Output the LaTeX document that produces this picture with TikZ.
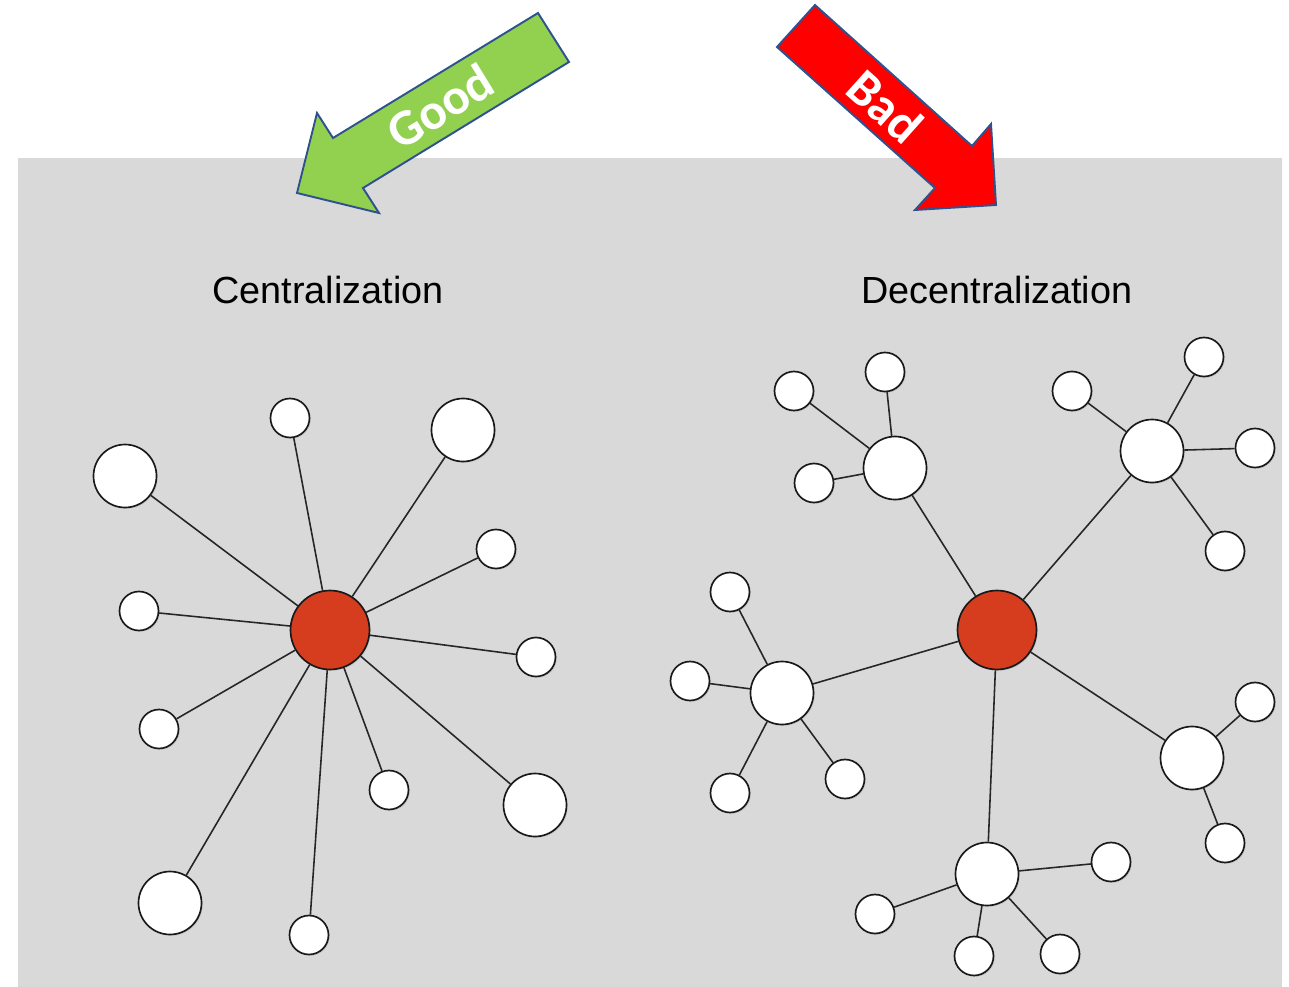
\documentclass[tikz,border=0pt]{standalone}
\usepackage{fontspec}
\setmainfont{Liberation Sans}
\newfontfamily\labelfont{Carlito}
\usetikzlibrary{shadows}
\definecolor{panelgray}{RGB}{217,217,217}
\definecolor{hubred}{RGB}{214,61,31}
\definecolor{goodgreen}{RGB}{146,208,80}
\definecolor{outlineblue}{RGB}{47,82,143}
\tikzset{
	dot/.style={circle, draw=black!90, line width=0.95pt, fill=white, inner sep=0pt,
		drop shadow={opacity=0.25, shadow xshift=0.7pt, shadow yshift=-0.7pt}},
	small/.style={dot, minimum size=0.78cm},
	big/.style={dot, minimum size=1.26cm},
	hub/.style={dot, fill=hubred, minimum size=1.58cm},
	link/.style={line width=0.9pt, black!85},
	bigarrow/.style={draw=outlineblue, line width=1.1pt, line join=miter}
}

\begin{document}
\begin{tikzpicture}[x=0.02cm, y=-0.02cm]
			%%%%% START %%%%%
			\useasboundingbox (0, 0) rectangle (1289, 987);
			\fill[panelgray] (18, 158) rectangle (1282, 987);
			
			% arrows
			\draw[bigarrow, fill=goodgreen] (538, 13) -- (569, 62) -- (363, 188) -- (379, 213) -- (297, 193) -- (317, 113) -- (333, 138) -- cycle;
			\node[rotate=31.5, text=white, font=\labelfont\bfseries\fontsize{29}{30}\selectfont] (good) at (440, 106) {Good};
			
			\draw[bigarrow, fill=red] (815, 5) -- (972, 146) -- (991, 124) -- (996, 205) -- (915, 210) -- (935, 188) -- (777, 47) -- cycle;
			\node[rotate=-41.8, text=white, font=\labelfont\bfseries\fontsize{29}{30}\selectfont] (bad) at (885, 106) {Bad};
			
			% titles
			\node[font=\fontsize{21.5}{24}\selectfont] (tcentral) at (328, 290) {Centralization};
			\node[font=\fontsize{21.5}{24}\selectfont] (tdecentral) at (997, 290) {Decentralization};
			
			% centralized network
			\node[hub] (hubL) at (330, 630) {};
			\node[small] (l1) at (290, 418) {};
			\node[big] (l2) at (125, 476) {};
			\node[big] (l3) at (463, 430) {};
			\node[small] (l4) at (496, 549) {};
			\node[small] (l5) at (139, 611) {};
			\node[small] (l6) at (536, 657) {};
			\node[small] (l7) at (159, 729) {};
			\node[big] (l8) at (170, 903) {};
			\node[small] (l9) at (309, 935) {};
			\node[small] (l10) at (389, 790) {};
			\node[big] (l11) at (535, 805) {};
			\foreach \n in {1,...,11}
				\draw[link] (hubL) -- (l\n);
			
			% decentralized network
			\node[hub] (hubR) at (997, 630) {};
			
			\node[big] (a) at (895, 468) {};
			\node[small] (a1) at (794, 391) {};
			\node[small] (a2) at (885, 372) {};
			\node[small] (a3) at (814, 483) {};
			
			\node[big] (b) at (1152, 451) {};
			\node[small] (b1) at (1072, 391) {};
			\node[small] (b2) at (1204, 357) {};
			\node[small] (b3) at (1255, 448) {};
			\node[small] (b4) at (1225, 551) {};
			
			\node[big] (c) at (782, 693) {};
			\node[small] (c1) at (730, 592) {};
			\node[small] (c2) at (690, 681) {};
			\node[small] (c3) at (730, 793) {};
			\node[small] (c4) at (845, 779) {};
			
			\node[big] (d) at (987, 874) {};
			\node[small] (d1) at (1111, 862) {};
			\node[small] (d2) at (875, 914) {};
			\node[small] (d3) at (974, 956) {};
			\node[small] (d4) at (1060, 954) {};
			
			\node[big] (e) at (1192, 758) {};
			\node[small] (e1) at (1255, 702) {};
			\node[small] (e2) at (1225, 843) {};
			
			\foreach \n in {a,b,c,d,e}
				\draw[link] (hubR) -- (\n);
			\foreach \n in {1,2,3}
				\draw[link] (a) -- (a\n);
			\foreach \n in {1,...,4}
				\draw[link] (b) -- (b\n);
			\foreach \n in {1,...,4}
				\draw[link] (c) -- (c\n);
			\foreach \n in {1,...,4}
				\draw[link] (d) -- (d\n);
			\foreach \n in {1,2}
				\draw[link] (e) -- (e\n);
			%%%%% END %%%%%
\end{tikzpicture}
\end{document}
